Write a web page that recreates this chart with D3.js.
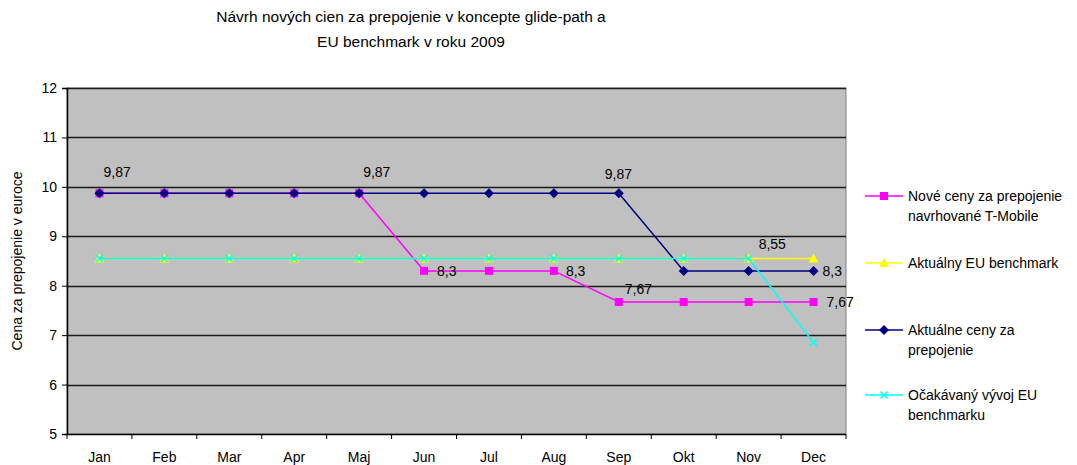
<!DOCTYPE html>
<html>
<head>
<meta charset="utf-8">
<script src="https://cdn.jsdelivr.net/npm/d3@7"></script>
<style>
  body { margin: 0; background: #fff; }
  svg { font-family: "Liberation Sans", Arial, sans-serif; }
</style>
</head>
<body>
<svg id="chart" width="1077" height="465"></svg>
<script>
const months = ['Jan', 'Feb', 'Mar', 'Apr', 'Maj', 'Jun', 'Jul', 'Aug', 'Sep', 'Okt', 'Nov', 'Dec']
const noveCeny = [9.87, 9.87, 9.87, 9.87, 9.87, 8.3, 8.3, 8.3, 7.67, 7.67, 7.67, 7.67]
const euBenchmark = [8.55, 8.55, 8.55, 8.55, 8.55, 8.55, 8.55, 8.55, 8.55, 8.55, 8.55, 8.55]
const aktualneCeny = [9.87, 9.87, 9.87, 9.87, 9.87, 9.87, 9.87, 9.87, 9.87, 8.3, 8.3, 8.3]
const ocakavanyVyvoj = [8.55, 8.55, 8.55, 8.55, 8.55, 8.55, 8.55, 8.55, 8.55, 8.55, 8.55, 6.85]
const yTicks = [5, 6, 7, 8, 9, 10, 11, 12]

const series = [
  { name: ['Nové ceny za prepojenie', 'navrhované T-Mobile'], values: noveCeny, color: '#ff00ff', marker: 'square' },
  { name: ['Aktuálny EU benchmark'], values: euBenchmark, color: '#ffff00', marker: 'triangle' },
  { name: ['Aktuálne ceny za', 'prepojenie'], values: aktualneCeny, color: '#000080', marker: 'diamond' },
  { name: ['Očakávaný vývoj EU', 'benchmarku'], values: ocakavanyVyvoj, color: '#00ffff', marker: 'x' }
]

// data labels: series index, month index, offset of text start / baseline
const labels = [
  { s: 2, i: 0, dx: 4, dy: -16 },
  { s: 2, i: 4, dx: 4, dy: -16 },
  { s: 2, i: 8, dx: -14, dy: -14 },
  { s: 0, i: 5, dx: 13, dy: 5 },
  { s: 0, i: 7, dx: 12, dy: 5 },
  { s: 0, i: 8, dx: 6, dy: -8 },
  { s: 0, i: 11, dx: 13, dy: 5 },
  { s: 2, i: 11, dx: 9, dy: 5 },
  { s: 1, i: 10, dx: 10, dy: -10 }
]

const svg = d3.select('#chart')
const margin = { top: 88, left: 67 }
const width = 779
const height = 346
const g = svg.append('g').attr('transform', 'translate(' + margin.left + ',' + margin.top + ')')

const x = d3.scaleBand().domain(months).range([0, width])
const y = d3.scaleLinear().domain([5, 12]).range([height, 0])
const cx = d => x(d) + x.bandwidth() / 2

// plot area
g.append('rect')
  .attr('width', width)
  .attr('height', height)
  .attr('fill', '#c0c0c0')
  .attr('stroke', '#808080')

// gridlines
g.append('g')
  .selectAll('line')
  .data(yTicks.slice(1))
  .enter().append('line')
    .attr('x1', 0)
    .attr('x2', width)
    .attr('y1', d => Math.round(y(d)) + 0.5)
    .attr('y2', d => Math.round(y(d)) + 0.5)
    .attr('stroke', '#1a1a1a')
    .attr('stroke-width', 1.5)

// y axis
const yAxis = g.append('g')
  .call(d3.axisLeft(y).tickValues(yTicks).tickSize(5).tickPadding(5).tickFormat(d3.format('d')))
yAxis.select('.domain').attr('stroke', '#000').attr('stroke-width', 1.5)
yAxis.selectAll('.tick line').attr('stroke', '#000')
yAxis.selectAll('text').attr('font-size', 14).attr('fill', '#000').attr('font-family', '"Liberation Sans", Arial, sans-serif')

// x axis with ticks between categories
const xAxis = g.append('g').attr('transform', 'translate(0,' + height + ')')
xAxis.append('line')
  .attr('x1', 0).attr('x2', width)
  .attr('y1', 0.5).attr('y2', 0.5)
  .attr('stroke', '#000').attr('stroke-width', 1.5)
xAxis.selectAll('.tk')
  .data(months.concat(['end']))
  .enter().append('line')
    .attr('x1', (d, i) => i * x.bandwidth())
    .attr('x2', (d, i) => i * x.bandwidth())
    .attr('y1', 0)
    .attr('y2', 5)
    .attr('stroke', '#000')
xAxis.selectAll('text')
  .data(months)
  .enter().append('text')
    .attr('x', d => cx(d))
    .attr('y', 28)
    .attr('text-anchor', 'middle')
    .attr('font-size', 14)
    .text(d => d)

// y title
svg.append('text')
  .attr('transform', 'translate(22,' + (margin.top + height / 2) + ') rotate(-90)')
  .attr('text-anchor', 'middle')
  .attr('font-size', 14)
  .text('Cena za prepojenie v euroce')

// title
const title = svg.append('text').attr('text-anchor', 'middle').attr('font-size', 15.5)
title.append('tspan').attr('x', 411).attr('y', 22).text('Návrh nových cien za prepojenie v koncepte glide-path a')
title.append('tspan').attr('x', 411).attr('y', 47).text('EU benchmark v roku 2009')

function drawMarker (sel, type, color) {
  if (type === 'square') {
    sel.append('rect').attr('x', -4).attr('y', -4).attr('width', 8).attr('height', 8).attr('fill', color)
  } else if (type === 'diamond') {
    sel.append('path').attr('d', 'M0,-5L5,0L0,5L-5,0Z').attr('fill', color)
  } else if (type === 'triangle') {
    sel.append('path').attr('d', 'M0,-5L5,4L-5,4Z').attr('fill', color)
  } else {
    sel.append('path').attr('d', 'M-3.5,-3.5L3.5,3.5M-3.5,3.5L3.5,-3.5').attr('stroke', color).attr('stroke-width', 1.5)
  }
}

const line = d3.line().x((d, i) => cx(months[i])).y(d => y(d))

series.forEach(s => {
  g.append('path')
    .datum(s.values)
    .attr('d', line)
    .attr('fill', 'none')
    .attr('stroke', s.color)
    .attr('stroke-width', 1.5)
  g.append('g')
    .selectAll('g')
    .data(s.values)
    .enter().append('g')
      .attr('transform', (d, i) => 'translate(' + cx(months[i]) + ',' + y(d) + ')')
      .each(function () { drawMarker(d3.select(this), s.marker, s.color) })
})

// data labels
g.append('g')
  .selectAll('text')
  .data(labels)
  .enter().append('text')
    .attr('x', d => cx(months[d.i]) + d.dx)
    .attr('y', d => y(series[d.s].values[d.i]) + d.dy)
    .attr('font-size', 14)
    .text(d => String(series[d.s].values[d.i]).replace('.', ','))

// legend
const legendY = [196, 263, 330, 395]
const legend = svg.append('g')
  .selectAll('g')
  .data(series)
  .enter().append('g')
    .attr('transform', (d, i) => 'translate(865,' + legendY[i] + ')')
legend.append('line')
  .attr('x1', 0).attr('x2', 38)
  .attr('stroke', d => d.color)
  .attr('stroke-width', 1.5)
legend.append('g')
  .attr('transform', 'translate(19,0)')
  .each(function (d) { drawMarker(d3.select(this), d.marker, d.color) })
legend.append('text')
  .attr('x', 43)
  .attr('y', 5)
  .attr('font-size', 14)
  .selectAll('tspan')
  .data(d => d.name)
  .enter().append('tspan')
    .attr('x', 43)
    .attr('dy', (d, i) => i === 0 ? 0 : 19.5)
    .text(d => d)
</script>
</body>
</html>
